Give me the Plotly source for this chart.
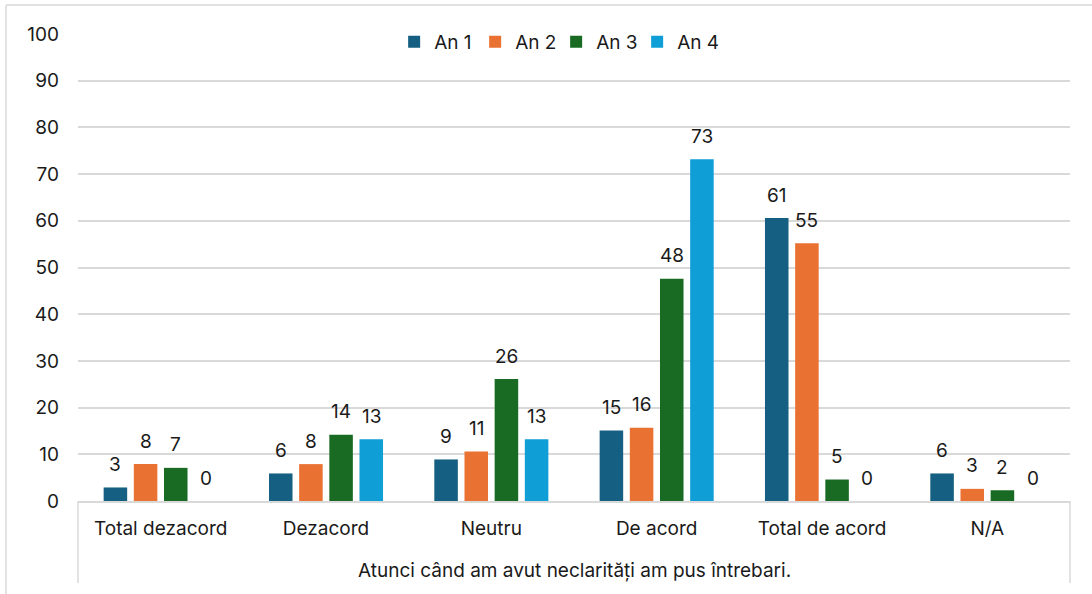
import plotly.graph_objects as go

categories = ["Total dezacord", "Dezacord", "Neutru", "De acord", "Total de acord", "N/A"]
series_names = ["An 1", "An 2", "An 3", "An 4"]
an1 = [2.9, 5.9, 8.9, 15.1, 60.6, 5.9]
an2 = [7.9, 7.9, 10.6, 15.7, 55.2, 2.6]
an3 = [7.1, 14.2, 26.1, 47.6, 4.6, 2.3]
an4 = [0, 13.2, 13.2, 73.2, 0, 0]
colors = ["#156082", "#E97132", "#196B24", "#0F9ED5"]
y_ticks = [0, 10, 20, 30, 40, 50, 60, 70, 80, 90, 100]
group_label = "Atunci când am avut neclarități am pus întrebari."

FONT = "Inter"
FS = 19
TXT = "#1a1a1a"
GRID = "#d9d9d9"
W, H = 1092, 594
ML, MR, MT, MB = 78, 22, 34, 93
BARGAP = 0.27
BARGROUPGAP = 0.22

fig = go.Figure()
all_series = [an1, an2, an3, an4]
for name, vals, col in zip(series_names, all_series, colors):
    fig.add_trace(go.Bar(
        x=categories, y=vals, name=name,
        marker=dict(color=col, line=dict(width=0)),
    ))

plot_w = W - ML - MR
plot_h = H - MT - MB
cat_w = plot_w / len(categories)
pitch = cat_w * (1 - BARGAP) / len(series_names)
for i, vals in enumerate(all_series):
    xs = (i - (len(series_names) - 1) / 2) * pitch
    for c, v in zip(categories, vals):
        fig.add_annotation(
            x=c, y=v, xref="x", yref="y", text=str(int(v + 0.5)),
            showarrow=False, xshift=xs, yshift=23, yanchor="middle",
            font=dict(family=FONT, size=FS, color=TXT),
        )

# group label below categories
fig.add_annotation(
    x=0.5, y=-(570 - (H - MB)) / plot_h, xref="paper", yref="paper",
    text=group_label, showarrow=False, yanchor="middle", xanchor="center",
    font=dict(family=FONT, size=FS, color=TXT),
)

# axis box lines (multi-level axis frame)
box_bottom = -(583 - (H - MB)) / plot_h
for xp in [0, 1]:
    fig.add_shape(type="line", xref="paper", yref="paper", x0=xp, x1=xp, y0=0, y1=box_bottom,
                  line=dict(color=GRID, width=1.5))

# chart outer border (left and top)
left_b = (6 - ML) / plot_w
top_b = 1 + (MT - 5) / plot_h
fig.add_shape(type="line", xref="paper", yref="paper", x0=left_b, x1=left_b, y0=top_b, y1=-1,
              line=dict(color=GRID, width=1.5))
fig.add_shape(type="line", xref="paper", yref="paper", x0=left_b, x1=2, y0=top_b, y1=top_b,
              line=dict(color=GRID, width=1.5))

fig.update_layout(
    width=W, height=H, autosize=False,
    margin=dict(l=ML, r=MR, t=MT, b=MB, autoexpand=False),
    paper_bgcolor="white", plot_bgcolor="white",
    barmode="group", bargap=BARGAP, bargroupgap=BARGROUPGAP,
    font=dict(family=FONT, size=FS, color=TXT),
    showlegend=True,
    legend=dict(orientation="h", x=0.482, xanchor="center", y=0.983, yanchor="middle",
                bgcolor="rgba(0,0,0,0)", font=dict(family=FONT, size=FS, color=TXT),
                itemwidth=30, traceorder="normal", entrywidth=36, entrywidthmode="pixels"),
    xaxis=dict(type="category", showgrid=False, showline=True, linecolor=GRID, linewidth=1.5,
               ticks="", tickfont=dict(family=FONT, size=FS, color=TXT), ticklabelstandoff=9),
    yaxis=dict(range=[0, 100], tickvals=y_ticks, showgrid=True, gridcolor=GRID, gridwidth=1.5,
               zeroline=False, showline=False, ticks="",
               tickfont=dict(family=FONT, size=FS, color=TXT), ticklabelstandoff=18),
)

fig.write_html("out.html", post_script="document.body.style.margin='0';",
               config={"displayModeBar": False})
